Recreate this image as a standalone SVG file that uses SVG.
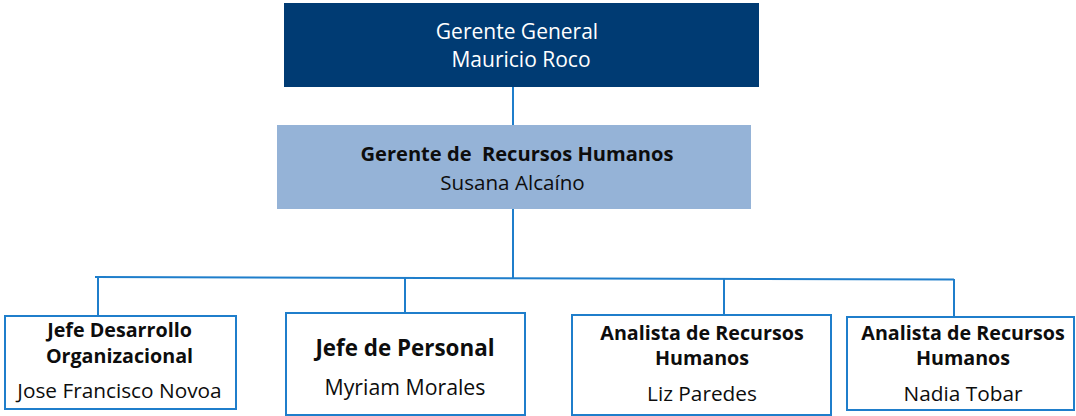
<svg xmlns="http://www.w3.org/2000/svg" width="1076" height="416" viewBox="0 0 1076 416">
  <style>
    .t { font-family: "Open Sans", "Noto Sans", sans-serif; text-anchor: middle; white-space: pre; }
    .w { fill: #ffffff; font-size: 21px; }
    .b { fill: #0d0d0d; font-weight: bold; font-size: 19.7px; }
    .r { fill: #0d0d0d; font-size: 20.8px; }
    .box { fill: #ffffff; stroke: #1f7ecb; stroke-width: 2; }
    .line { stroke: #1f7ecb; stroke-width: 2; fill: none; }
  </style>
  <rect x="0" y="0" width="1076" height="416" fill="#ffffff"/>
  <g id="connectors">
    <line class="line" x1="513" y1="87" x2="513" y2="125"/>
    <line class="line" x1="513" y1="209" x2="513" y2="278"/>
    <line class="line" x1="95" y1="277" x2="954" y2="279.5"/>
    <line class="line" x1="98" y1="277" x2="98" y2="316"/>
    <line class="line" x1="405" y1="278" x2="405" y2="313"/>
    <line class="line" x1="724" y1="279" x2="724" y2="315"/>
    <line class="line" x1="954" y1="279" x2="954" y2="317"/>
  </g>
  <g id="gerente-general">
    <rect x="284" y="3" width="475" height="84" fill="#003b73"/>
    <text class="t w" x="517" y="39">Gerente General</text>
    <text class="t w" x="521" y="67">Mauricio Roco</text>
  </g>
  <g id="gerente-rrhh">
    <rect x="277" y="125" width="474" height="84" fill="#95b3d7"/>
    <text class="t b" x="517" y="161" style="font-size:20.1px">Gerente de  Recursos Humanos</text>
    <text class="t r" x="512.5" y="190" style="font-size:20.6px">Susana Alcaíno</text>
  </g>
  <g id="jefe-desarrollo">
    <rect class="box" x="5" y="316" width="231" height="93"/>
    <text class="t b" x="119.5" y="337">Jefe Desarrollo</text>
    <text class="t b" x="119.5" y="363">Organizacional</text>
    <text class="t r" x="119.5" y="398">Jose Francisco Novoa</text>
  </g>
  <g id="jefe-personal">
    <rect class="box" x="286" y="313" width="239" height="102"/>
    <text class="t b" x="405" y="356" style="font-size:22.4px">Jefe de Personal</text>
    <text class="t r" x="405" y="395" style="font-size:21.3px">Myriam Morales</text>
  </g>
  <g id="analista-1">
    <rect class="box" x="572" y="315" width="259" height="100"/>
    <text class="t b" x="702" y="340">Analista de Recursos</text>
    <text class="t b" x="702" y="365">Humanos</text>
    <text class="t r" x="702" y="401">Liz Paredes</text>
  </g>
  <g id="analista-2">
    <rect class="box" x="847" y="317" width="227" height="93"/>
    <text class="t b" x="963" y="340">Analista de Recursos</text>
    <text class="t b" x="963" y="365">Humanos</text>
    <text class="t r" x="963" y="401">Nadia Tobar</text>
  </g>
</svg>
